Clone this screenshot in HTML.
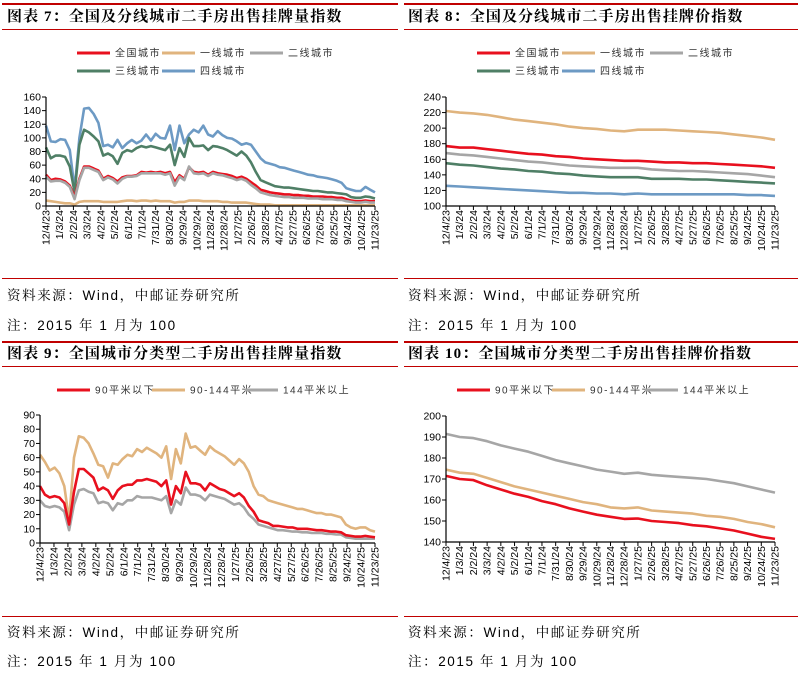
<!DOCTYPE html>
<html><head><meta charset="utf-8">
<style>
body{margin:0;width:800px;height:674px;background:#fff;overflow:hidden;font-family:"Liberation Sans","Noto Sans CJK SC",sans-serif;}
svg{position:absolute;left:0;top:0;}
.t{font-family:"Liberation Serif","Noto Serif CJK SC",serif;font-weight:bold;font-size:15px;fill:#000;letter-spacing:1.1px;}
.s{font-family:"Liberation Sans","Noto Serif CJK SC",serif;font-size:13.5px;fill:#000;letter-spacing:1.6px;}
.lg{font-family:"Liberation Sans","Noto Sans CJK SC",sans-serif;font-size:10px;fill:#333;letter-spacing:1.5px;}
.tk{font-size:10.5px;fill:#000;font-family:"Liberation Sans",sans-serif;}
</style></head>
<body>
<svg id="s" width="800" height="674">
<g>
<rect x="2" y="3" width="396" height="2" fill="#c00000"/><rect x="404" y="3" width="394" height="2" fill="#c00000"/>
<rect x="2" y="29" width="396" height="1" fill="#c00000"/><rect x="404" y="29" width="394" height="1" fill="#c00000"/>
<rect x="2" y="278" width="396" height="1" fill="#c00000"/><rect x="404" y="278" width="394" height="1" fill="#c00000"/>
<rect x="2" y="341" width="396" height="2" fill="#c00000"/><rect x="404" y="341" width="394" height="2" fill="#c00000"/>
<rect x="2" y="366" width="396" height="1" fill="#c00000"/><rect x="404" y="366" width="394" height="1" fill="#c00000"/>
<rect x="2" y="616" width="396" height="1" fill="#c00000"/><rect x="404" y="616" width="394" height="1" fill="#c00000"/>
</g>
<text class="t" x="7" y="21">图表 7：全国及分线城市二手房出售挂牌量指数</text>
<text class="t" x="408" y="21">图表 8：全国及分线城市二手房出售挂牌价指数</text>
<text class="t" x="7" y="358">图表 9：全国城市分类型二手房出售挂牌量指数</text>
<text class="t" x="408" y="358">图表 10：全国城市分类型二手房出售挂牌价指数</text>
<text class="s" x="7" y="300">资料来源：Wind，中邮证券研究所</text>
<text class="s" x="7" y="330">注：2015 年 1 月为 100</text>
<text class="s" x="408" y="300">资料来源：Wind，中邮证券研究所</text>
<text class="s" x="408" y="330">注：2015 年 1 月为 100</text>
<text class="s" x="7" y="637">资料来源：Wind，中邮证券研究所</text>
<text class="s" x="7" y="666">注：2015 年 1 月为 100</text>
<text class="s" x="408" y="637">资料来源：Wind，中邮证券研究所</text>
<text class="s" x="408" y="666">注：2015 年 1 月为 100</text>
</svg>
<script>
const dates=["12/4/23","1/3/24","2/2/24","3/3/24","4/2/24","5/2/24","6/1/24","7/1/24","7/31/24","8/30/24","9/29/24","10/29/24","11/28/24","12/28/24","1/27/25","2/26/25","3/28/25","4/27/25","5/27/25","6/26/25","7/26/25","8/25/25","9/24/25","10/24/25","11/23/25"];
// Chart 7 (volume index, 70 samples)
const c7Tier4=[118,95,94,98,97,82,25,100,143,144,135,122,88,90,86,97,85,92,97,92,96,105,96,106,100,99,118,82,118,92,105,112,108,118,105,102,110,104,100,99,95,90,92,90,80,70,64,62,60,57,56,54,52,50,48,46,45,43,42,41,39,37,34,26,24,22,22,28,24,20];
const c7Tier3=[86,70,74,74,72,58,20,90,112,108,102,95,74,77,73,62,78,82,80,85,88,86,88,86,84,82,90,60,85,72,100,88,88,89,82,88,87,85,82,78,74,80,74,64,50,38,35,32,29,28,27,27,26,25,24,23,22,22,21,20,20,19,18,17,13,12,12,14,13,11];
const c7All=[46,38,40,39,36,30,13,40,58,58,55,52,40,44,41,36,42,44,44,45,50,49,50,49,50,48,50,35,45,40,57,50,49,50,46,50,48,47,46,44,41,43,40,35,30,24,22,20,19,18,17,17,16,16,15,15,14,14,14,13,13,12,12,10,8,7,7,8,7,7];
const c7Tier2=[43,36,37,37,34,28,10,38,56,56,53,50,38,42,39,33,40,43,43,44,48,48,48,48,48,46,48,30,43,38,58,48,47,48,44,48,46,45,43,41,38,40,37,31,26,20,18,16,15,14,13,13,12,12,12,11,11,11,10,10,10,9,9,7,6,5,5,6,5,5];
const c7Tier1=[8,7,6,5,4,4,2,6,7,7,7,7,6,6,6,6,7,8,8,7,8,8,7,8,7,7,7,5,6,6,8,8,8,7,7,7,7,6,6,5,5,5,5,4,3,2,2,2,1,1,1,1,1,1,1,1,1,1,1,1,1,1,1,1,1,1,1,1,1,1];
const c7Ticks=[0,20,40,60,80,100,120,140,160];
// Chart 8 (price index, at tick dates)
const c8Tier1=[222,220,219,217,214,211,209,207,205,202,200,199,197,196,198,198,198,197,196,195,194,192,190,188,185];
const c8All=[177,175,175,173,171,169,167,166,164,163,161,160,159,158,158,157,156,156,155,155,154,153,152,151,149];
const c8Tier2=[168,166,165,163,161,159,157,156,154,152,151,150,149,149,149,147,146,145,145,144,143,142,141,139,137];
const c8Tier3=[155,153,152,150,148,147,145,144,142,141,139,138,137,137,137,135,135,135,134,134,133,132,131,130,129];
const c8Tier4=[126,125,124,123,122,121,120,119,118,117,117,116,116,115,116,115,115,115,115,115,115,115,114,114,113];
const c8Ticks=[100,120,140,160,180,200,220,240];
// Chart 9 (volume by size)
const c9Mid=[62,57,51,53,49,40,16,60,75,74,70,63,55,54,46,56,55,59,62,61,66,64,67,65,63,60,68,45,66,56,77,67,68,65,62,68,65,63,61,58,55,59,56,50,40,34,33,30,29,28,27,26,25,24,24,23,22,21,21,20,20,19,18,13,11,10,11,11,9,8];
const c9Small=[40,34,32,33,32,28,13,36,52,52,49,46,37,39,37,31,37,40,41,41,44,44,45,44,43,40,44,27,40,35,50,42,42,41,37,42,40,38,37,35,33,35,32,26,22,16,15,14,12,12,11.5,11,11,10,10,10,9.5,9,9,8.5,8,8,7.5,5.5,5,4.5,4.5,5,4.5,4];
const c9Large=[30,26,25,26,25,22,9,27,37,38,36,35,28,29,28,23,28,27,30,30,33,32,32,32,31,30,33,21,30,27,39,34,34,33,30,34,33,32,31,29,27,28,25,20,17,13,12,11,10,9,9,8.5,8,8,7.5,7.5,7,7,7,6.5,6.5,6,6,4,3.5,3,3,3,3,3];
const c9Ticks=[0,10,20,30,40,50,60,70,80,90];
// Chart 10 (price by size)
const c10Large=[191.5,190,189.5,188,186,184.5,183,181,179,177.5,176,174.5,173.5,172.5,173,172,171.5,171,170.5,170,169,168,166.5,165,163.5];
const c10Mid=[174.5,173,172.5,170.5,168.5,166.5,165,163.5,162,160.5,159,158,156.5,156,156.5,155,154.5,154,153.5,152.5,152,151,149.5,148.5,147];
const c10Small=[171.5,170,169.5,167,165,163,161.5,159.5,158,156,154.5,153,152,151,151.2,150,149.5,149,148,147.5,146.5,145.5,144,142.5,141.5];
const c10Ticks=[140,150,160,170,180,190,200];

const NS="http://www.w3.org/2000/svg";
const svg=document.getElementById('s');
function mk(tag,attrs,parent){const e=document.createElementNS(NS,tag);for(const k in attrs)e.setAttribute(k,attrs[k]);(parent||svg).appendChild(e);return e;}
const RED="#e8101e",TAN="#e0b47e",GRAY="#a6a6a6",GREEN="#4f7f66",BLUE="#6d9ac4";

function chart(name,x0,x1,yTop,yBot,ticks,series,legend){
  const g=mk('g',{});
  
  
  const lo=ticks[0],hi=ticks[ticks.length-1];
  const ys=v=>yBot-(v-lo)/(hi-lo)*(yBot-yTop);
  ticks.forEach(t=>{
    const y=ys(t);
    mk('line',{x1:x0-4,x2:x0,y1:y,y2:y,stroke:'#000','stroke-width':1},g);
    const tx=mk('text',{x:x0-5,y:y+3.5,'text-anchor':'end',class:'tk'},g);
    tx.textContent=t;
    
    
  });
  const n=dates.length;
  dates.forEach((d,i)=>{
    const x=x0+i*(x1-x0)/(n-1);
    mk('line',{x1:x,x2:x,y1:yBot,y2:yBot+4,stroke:'#000','stroke-width':1},g);
    const tx=mk('text',{x:0,y:0,'text-anchor':'end',class:'tk',transform:`translate(${x+3.5},${yBot+4}) rotate(-90)`},g);
    tx.textContent=d;
    
    
  });
  series.forEach(s=>{
    const m=s.data.length;
    const pts=s.data.map((v,i)=>(x0+i*(x1-x0)/(m-1)).toFixed(1)+','+ys(v).toFixed(1)).join(' ');
    const p=mk('polyline',{points:pts,fill:'none',stroke:s.color,'stroke-width':2.6,'stroke-linejoin':'round'},g);
    
    
  });
  mk('line',{x1:x0,x2:x0,y1:yTop,y2:yBot,stroke:'#000','stroke-width':1.2},g);
  mk('line',{x1:x0,x2:x1,y1:yBot,y2:yBot,stroke:'#000','stroke-width':1.2},g);
  legend.forEach(l=>{
    const lg=mk('g',{},g);
    
    
    mk('line',{x1:l.x,x2:l.x+33,y1:l.y,y2:l.y,stroke:l.color,'stroke-width':3},lg);
    const t=mk('text',{x:l.x+38,y:l.y+3.5,class:'lg'},lg);
    t.textContent=l.text;
  });
}
chart('chart7-plot',46,375,97,206,c7Ticks,[
 {id:'series-tier1',data:c7Tier1,color:TAN},
 {id:'series-tier4',data:c7Tier4,color:BLUE},
 {id:'series-tier3',data:c7Tier3,color:GREEN},
 {id:'series-national',data:c7All,color:RED},
 {id:'series-tier2',data:c7Tier2,color:GRAY}],
 [{x:77,y:53,color:RED,text:'全国城市'},{x:162,y:53,color:TAN,text:'一线城市'},{x:250,y:53,color:GRAY,text:'二线城市'},
  {x:77,y:71,color:GREEN,text:'三线城市'},{x:162,y:71,color:BLUE,text:'四线城市'}]);
chart('chart8-plot',446,775,97,206,c8Ticks,[
 {id:'series-tier1',data:c8Tier1,color:TAN},
 {id:'series-national',data:c8All,color:RED},
 {id:'series-tier2',data:c8Tier2,color:GRAY},
 {id:'series-tier3',data:c8Tier3,color:GREEN},
 {id:'series-tier4',data:c8Tier4,color:BLUE}],
 [{x:477,y:53,color:RED,text:'全国城市'},{x:562,y:53,color:TAN,text:'一线城市'},{x:650,y:53,color:GRAY,text:'二线城市'},
  {x:477,y:71,color:GREEN,text:'三线城市'},{x:562,y:71,color:BLUE,text:'四线城市'}]);
chart('chart9-plot',40,375,415,543,c9Ticks,[
 {id:'series-90-144',data:c9Mid,color:TAN},
 {id:'series-above-144',data:c9Large,color:GRAY},
 {id:'series-below-90',data:c9Small,color:RED}],
 [{x:57,y:390,color:RED,text:'90平米以下'},{x:152,y:390,color:TAN,text:'90-144平米'},{x:245,y:390,color:GRAY,text:'144平米以上'}]);
chart('chart10-plot',446,775,416,542,c10Ticks,[
 {id:'series-above-144',data:c10Large,color:GRAY},
 {id:'series-90-144',data:c10Mid,color:TAN},
 {id:'series-below-90',data:c10Small,color:RED}],
 [{x:457,y:390,color:RED,text:'90平米以下'},{x:552,y:390,color:TAN,text:'90-144平米'},{x:645,y:390,color:GRAY,text:'144平米以上'}]);
</script>
</body></html>
